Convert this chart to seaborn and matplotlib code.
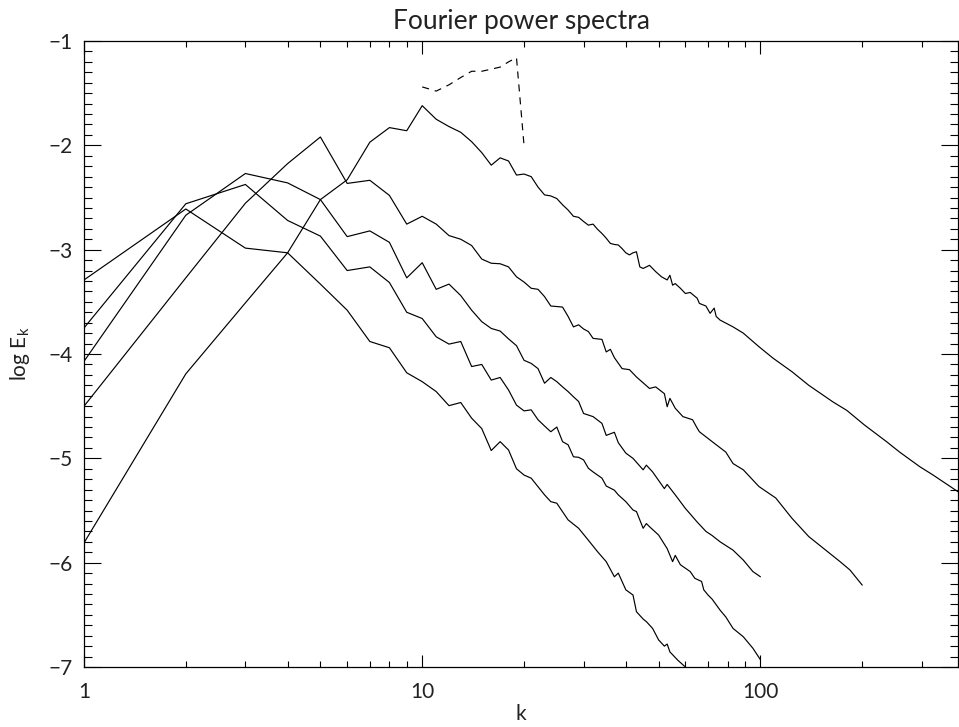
import pandas as pd
import matplotlib
matplotlib.use("Agg")
import matplotlib.pyplot as plt
import seaborn as sns
from matplotlib.ticker import MultipleLocator, LogLocator, NullFormatter

# spectrum peaking at k~10 (earliest)
k_p10 = [1, 2, 3, 4, 5, 6, 7, 8, 9, 10, 11, 12, 13, 14, 15, 16, 17, 18, 19, 20,
         21, 22, 23, 24, 25, 26, 27, 28, 29, 30, 31, 32, 33, 34, 35, 36, 37, 38, 39, 40,
         41, 42, 43, 44, 45, 47, 49, 51, 53, 54, 55, 56, 58, 60, 62, 65, 66, 69, 71, 73,
         74, 76, 83, 89, 99, 109, 124, 139, 164, 180, 203, 236, 258, 296, 324, 384]
e_p10 = [-5.81, -4.19, -3.51, -3.03, -2.52, -2.33, -1.97, -1.83, -1.86, -1.62, -1.75, -1.82,
         -1.875, -1.965, -2.07, -2.19, -2.12, -2.15, -2.285, -2.275,
         -2.30, -2.40, -2.475, -2.485, -2.51, -2.57, -2.62, -2.68, -2.69, -2.73,
         -2.765, -2.755, -2.805, -2.845, -2.89, -2.94, -2.95, -2.955, -2.99, -3.03,
         -3.05, -3.03, -3.02, -3.165, -3.18, -3.15, -3.21, -3.26, -3.29, -3.245,
         -3.34, -3.325, -3.37, -3.42, -3.41, -3.465, -3.515, -3.54, -3.61, -3.56,
         -3.64, -3.675, -3.74, -3.80, -3.93, -4.04, -4.17, -4.30, -4.46, -4.54,
         -4.68, -4.84, -4.94, -5.08, -5.16, -5.32]

# spectrum peaking at k~5
k_p5 = [1, 2, 3, 4, 5, 6, 7, 8, 9, 10, 11, 12, 13, 14, 15, 16, 17, 18, 19, 20,
        21, 22, 23, 24, 25, 26, 27, 28, 29, 30, 31, 32, 34, 35, 36, 37, 39, 41, 43, 47,
        49, 52, 53, 54, 56, 59, 63, 65, 66, 72, 79, 83, 89, 99, 111, 124, 139, 156, 172,
        184, 200]
e_p5 = [-4.50, -3.27, -2.555, -2.175, -1.92, -2.365, -2.335, -2.48, -2.755, -2.68,
        -2.755, -2.865, -2.90, -2.96, -3.09, -3.13, -3.135, -3.165, -3.26, -3.31,
        -3.37, -3.38, -3.45, -3.54, -3.545, -3.55, -3.64, -3.74, -3.72, -3.76,
        -3.785, -3.85, -3.86, -3.98, -3.955, -4.035, -4.14, -4.15, -4.22, -4.33,
        -4.315, -4.38, -4.505, -4.425, -4.52, -4.60, -4.63, -4.71, -4.745, -4.84,
        -4.94, -5.05, -5.11, -5.27, -5.38, -5.575, -5.75, -5.88, -5.99,
        -6.07, -6.215]

# spectrum peaking at k~3 (upper of the two)
k_p3a = [1, 2, 3, 4, 5, 6, 7, 8, 9, 10, 11, 12, 13, 14, 15, 16, 17, 18, 19, 20,
         21, 22, 23, 24, 25, 26, 27, 28, 29, 30, 32, 34, 35, 37, 38, 40, 42, 45, 46, 48,
         52, 53, 56, 60, 65, 69, 72, 76, 83, 89, 95, 100]
e_p3a = [-4.07, -2.67, -2.27, -2.36, -2.52, -2.875, -2.82, -2.93, -3.27, -3.125,
         -3.38, -3.33, -3.44, -3.58, -3.69, -3.755, -3.78, -3.855, -3.92, -4.06,
         -4.09, -4.14, -4.28, -4.225, -4.265, -4.315, -4.36, -4.41, -4.455, -4.57,
         -4.60, -4.665, -4.78, -4.75, -4.85, -4.95, -5.00, -5.11, -5.065, -5.13,
         -5.29, -5.25, -5.35, -5.48, -5.61, -5.70, -5.74, -5.80, -5.88, -5.975,
         -6.085, -6.135]

# spectrum peaking at k~3 (lower of the two)
k_p3b = [1, 2, 3, 4, 5, 6, 7, 8, 9, 10, 11, 12, 13, 14, 15, 16, 17, 18, 19, 20,
         21, 22, 23, 24, 25, 26, 27, 28, 29, 30, 31, 32, 34, 35, 37, 38, 40, 42, 43, 45,
         46, 47, 50, 53, 55, 56, 58, 62, 64, 67, 68, 70, 72, 76, 79, 83, 89, 95, 100]
e_p3b = [-3.75, -2.56, -2.375, -2.72, -2.87, -3.20, -3.165, -3.315, -3.60, -3.66,
         -3.835, -3.905, -3.88, -4.12, -4.10, -4.25, -4.225, -4.345, -4.49, -4.545,
         -4.535, -4.63, -4.69, -4.745, -4.70, -4.84, -4.87, -4.985, -4.99, -5.015,
         -5.095, -5.13, -5.19, -5.265, -5.305, -5.35, -5.415, -5.495, -5.51, -5.67,
         -5.625, -5.655, -5.735, -5.865, -5.99, -5.93, -6.02, -6.085, -6.15, -6.18,
         -6.26, -6.31, -6.35, -6.455, -6.52, -6.63, -6.71, -6.82, -6.93]

# spectrum peaking at k~2 (latest)
k_p2 = [1, 2, 3, 4, 5, 6, 7, 8, 9, 10, 11, 12, 13, 14, 15, 16, 17, 18, 19, 20,
        21, 23, 24, 25, 27, 29, 31, 33, 35, 37, 38, 40, 42, 43, 45, 46, 48, 50, 52, 53,
        54, 57, 60, 64]
e_p2 = [-3.29, -2.61, -2.985, -3.03, -3.33, -3.58, -3.88, -3.94, -4.18, -4.265,
        -4.36, -4.495, -4.465, -4.615, -4.715, -4.925, -4.84, -4.92, -5.10, -5.16,
        -5.19, -5.35, -5.415, -5.43, -5.59, -5.67, -5.785, -5.895, -5.99, -6.135,
        -6.10, -6.26, -6.31, -6.47, -6.54, -6.565, -6.63, -6.74, -6.80, -6.78,
        -6.855, -6.935, -7.0, -7.15]

# dashed reference segment
k_dash = [10, 11, 12, 13, 14, 15, 16, 17, 18, 19, 20]
e_dash = [-1.44, -1.48, -1.42, -1.35, -1.29, -1.29, -1.27, -1.25, -1.20, -1.16, -2.0]

runs = [("p10", k_p10, e_p10), ("p5", k_p5, e_p5), ("p3a", k_p3a, e_p3a),
        ("p3b", k_p3b, e_p3b), ("p2", k_p2, e_p2)]
df = pd.concat([pd.DataFrame({"k": k, "logE": e, "run": name}) for name, k, e in runs])

sns.set_style("ticks")
plt.rcParams["font.family"] = ["Lato", "DejaVu Sans"]

fig = plt.figure(figsize=(9.59, 7.27), dpi=100)
ax = fig.add_axes([0.0876, 0.0825, 0.9114, 0.8611])

sns.lineplot(data=df, x="k", y="logE", hue="run", palette=["black"] * 5,
             estimator=None, sort=False, lw=0.85, legend=False, ax=ax)
sns.lineplot(x=k_dash, y=e_dash, color="black", lw=0.85, estimator=None, sort=False,
             linestyle=(0, (6, 5)), ax=ax)

ax.set_xscale("log")
ax.set_xlim(1, 384)
ax.set_ylim(-7, -1)

ax.set_xticks([1, 10, 100])
ax.set_xticklabels(["1", "10", "100"])
ax.xaxis.set_minor_locator(LogLocator(base=10, subs=range(2, 10)))
ax.xaxis.set_minor_formatter(NullFormatter())
ax.yaxis.set_major_locator(MultipleLocator(1))
ax.yaxis.set_minor_locator(MultipleLocator(0.1))

ax.tick_params(axis="both", which="both", direction="in", top=True, right=True,
               color="black", width=0.8, labelsize=15, labelcolor="#222222")
ax.tick_params(axis="x", which="major", length=9, pad=11)
ax.tick_params(axis="x", which="minor", length=4.5)
ax.tick_params(axis="y", which="major", length=12.5, pad=8)
ax.tick_params(axis="y", which="minor", length=5.5)
for sp in ax.spines.values():
    sp.set_color("black")
    sp.set_linewidth(0.9)

ax.set_xlabel("k", fontsize=15, labelpad=1, color="#222222")
ax.set_ylabel(r"log E$_\mathregular{k}$", fontsize=15, labelpad=12, color="#222222")
ax.set_title("Fourier power spectra", fontsize=19, pad=9, color="#222222")

fig.savefig("out.png", dpi=100)
